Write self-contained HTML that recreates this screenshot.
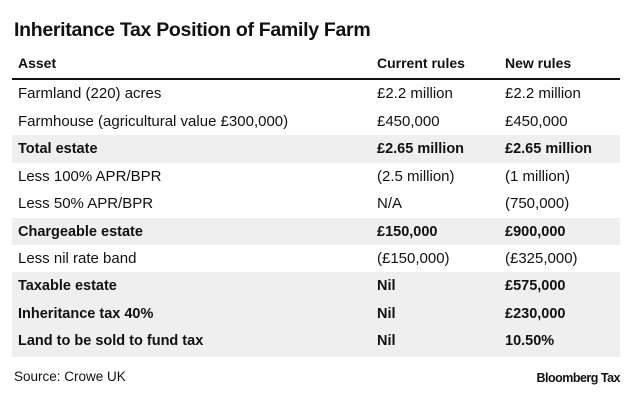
<!DOCTYPE html>
<html><head><style>
body{margin:0;width:633px;height:406px;background:#fff;font-family:"Liberation Sans",Arial,sans-serif;color:#111;position:relative;overflow:hidden}
.t{position:absolute;left:14px;top:19px;font-size:19.5px;font-weight:bold;letter-spacing:-0.3px}
.hdr{position:absolute;top:52px;left:12px;width:608px;height:24px;font-size:14px;font-weight:bold}
.line{position:absolute;top:78px;left:12px;width:608px;height:2px;background:#111}
.r{position:absolute;left:12px;width:608px;height:27.5px;font-size:15px;line-height:27.5px}
.g{background:#efefef}
.b{font-weight:bold}
.b span{font-size:14.5px;top:1px}
.c1,.c2,.c3{position:absolute;top:0;white-space:nowrap}
.c1{left:6px}.c2{left:365px}.c3{left:493px}
.hdr span{position:absolute;top:3px}
.src{position:absolute;left:14px;top:369px;font-size:13.5px}
.bt{position:absolute;right:13px;top:371px;font-size:12.5px;font-weight:bold;letter-spacing:-0.5px}
</style></head><body>
<div class="t">Inheritance Tax Position of Family Farm</div>
<div class="hdr"><span style="left:6px">Asset</span><span style="left:365px">Current rules</span><span style="left:493px">New rules</span></div>
<div class="line"></div>
<div class="r" style="top:80px"><span class="c1">Farmland (220) acres</span><span class="c2">£2.2 million</span><span class="c3">£2.2 million</span></div>
<div class="r" style="top:107.5px"><span class="c1">Farmhouse (agricultural value £300,000)</span><span class="c2">£450,000</span><span class="c3">£450,000</span></div>
<div class="r g b" style="top:135px"><span class="c1">Total estate</span><span class="c2">£2.65 million</span><span class="c3">£2.65 million</span></div>
<div class="r" style="top:162.5px"><span class="c1">Less 100% APR/BPR</span><span class="c2">(2.5 million)</span><span class="c3">(1 million)</span></div>
<div class="r" style="top:190px"><span class="c1">Less 50% APR/BPR</span><span class="c2">N/A</span><span class="c3">(750,000)</span></div>
<div class="r g b" style="top:217.5px"><span class="c1">Chargeable estate</span><span class="c2">£150,000</span><span class="c3">£900,000</span></div>
<div class="r" style="top:245px"><span class="c1">Less nil rate band</span><span class="c2">(£150,000)</span><span class="c3">(£325,000)</span></div>
<div class="r g b" style="top:272px;height:85px"></div>
<div class="r b" style="top:272px"><span class="c1">Taxable estate</span><span class="c2">Nil</span><span class="c3">£575,000</span></div>
<div class="r b" style="top:299.5px"><span class="c1">Inheritance tax 40%</span><span class="c2">Nil</span><span class="c3">£230,000</span></div>
<div class="r b" style="top:327px"><span class="c1">Land to be sold to fund tax</span><span class="c2">Nil</span><span class="c3">10.50%</span></div>
<div class="src">Source: Crowe UK</div>
<div class="bt">Bloomberg Tax</div>
</body></html>
